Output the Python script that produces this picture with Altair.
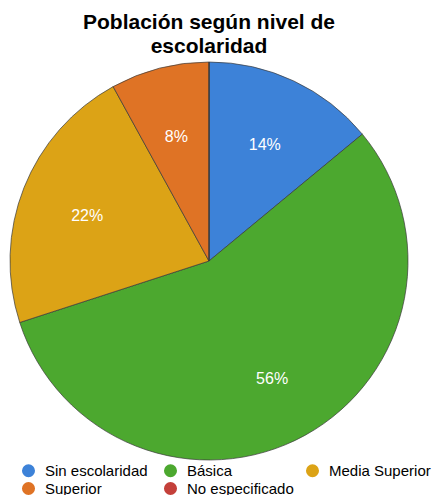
import altair as alt
import pandas as pd

categories = ["Sin escolaridad", "Básica", "Media Superior", "Superior", "No especificado"]
values = [14, 56, 22, 8, 0]
labels = ["14%", "56%", "22%", "8%", ""]
colors = ["#3d82d8", "#4ca82f", "#dca316", "#df7325", "#c4403a"]

df = pd.DataFrame({
    "categoria": categories,
    "valor": values,
    "etiqueta": labels,
    "orden": list(range(len(categories))),
})

base = alt.Chart(df).encode(
    theta=alt.Theta("valor:Q", stack=True),
    order=alt.Order("orden:Q"),
)

pie = base.mark_arc(radius=199, stroke="#3a3a3a", strokeWidth=0.7).encode(
    color=alt.Color(
        "categoria:N",
        scale=alt.Scale(domain=categories, range=colors),
        sort=categories,
        legend=alt.Legend(
            orient="none",
            direction="horizontal",
            legendX=13,
            legendY=403,
            columns=3,
            gridAlign="all",
            columnPadding=11,
            rowPadding=2,
            symbolType="circle",
            symbolSize=170,
            symbolStrokeWidth=0,
            symbolOpacity=1,
            labelFontSize=15,
            labelFont="Liberation Sans",
            labelColor="black",
            labelOffset=9,
            title=None,
        ),
    )
)

text = base.mark_text(radius=131, dy=3, fontSize=16, color="white", font="Liberation Sans").encode(
    text="etiqueta:N"
)

chart = (
    alt.layer(pie, text)
    .properties(
        width=402,
        height=402,
        autosize=alt.AutoSizeParams(type="none"),
        padding={"left": 0, "top": 52, "right": 22, "bottom": 40},
        title=alt.TitleParams(
            ["Población según nivel de", "escolaridad"],
            fontSize=21,
            font="Liberation Sans",
            fontWeight="bold",
            anchor="middle",
            color="black",
            lineHeight=24,
            offset=3,
        ),
    )
    .configure_view(stroke=None)
)

chart.save("out.html", embed_options={"renderer": "svg", "actions": False})
